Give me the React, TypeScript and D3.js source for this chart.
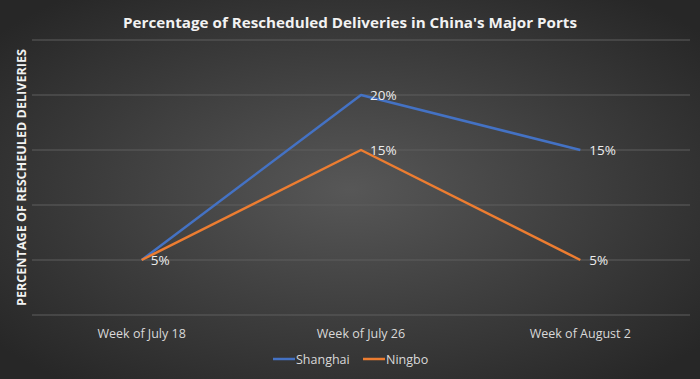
import React from "react";
import * as d3 from "d3";

const categories = ["Week of July 18", "Week of July 26", "Week of August 2"];
const shanghai = [5, 20, 15];
const ningbo = [5, 15, 5];
const seriesNames = ["Shanghai", "Ningbo"];
const yTicks = [0, 5, 10, 15, 20, 25];

const W = 700, H = 379;
const M = { left: 32, right: 10, top: 40, bottom: 64 };

export default function App() {
  const x = d3.scaleBand<string>().domain(categories).range([M.left, W - M.right]);
  const y = d3.scaleLinear().domain([0, 25]).range([H - M.bottom, M.top]);
  const cx = (c: string) => (x(c) as number) + x.bandwidth() / 2;
  const series = [
    { name: seriesNames[0], values: shanghai, color: "#4472C4" },
    { name: seriesNames[1], values: ningbo, color: "#ED7D31" },
  ];
  const line = d3.line<number>().x((_, i) => cx(categories[i])).y((v) => y(v));
  const font = "'Open Sans', sans-serif";
  return (
    <svg width={W} height={H} style={{ position: "absolute", left: 0, top: 0 }}>
      <defs>
        <radialGradient id="bg" cx="50%" cy="50%" r="65%">
          <stop offset="0%" stopColor="#575757" />
          <stop offset="100%" stopColor="#272727" />
        </radialGradient>
      </defs>
      <rect width={W} height={H} fill="url(#bg)" />
      <text x={350} y={28} textAnchor="middle" fill="#f2f2f2" fontFamily={font} fontWeight="bold" fontSize={15} textLength={454} lengthAdjust="spacingAndGlyphs">
        Percentage of Rescheduled Deliveries in China's Major Ports
      </text>
      {yTicks.map((t) => (
        <line key={t} x1={M.left} x2={W - M.right} y1={y(t)} y2={y(t)} stroke="#5e5e5e" strokeWidth={1} />
      ))}
      <text
        transform={`translate(26,${(M.top + H - M.bottom) / 2}) rotate(-90)`}
        textAnchor="middle"
        fill="#f2f2f2"
        fontFamily={font}
        fontWeight="bold"
        fontSize={12.5}
        textLength={257}
        lengthAdjust="spacingAndGlyphs"
      >
        PERCENTAGE OF RESCHEULED DELIVERIES
      </text>
      {categories.map((c) => (
        <text key={c} x={cx(c)} y={338} textAnchor="middle" fill="#d9d9d9" fontFamily={font} fontSize={12.5}>
          {c}
        </text>
      ))}
      {series.map((s) => (
        <path key={s.name} d={line(s.values) || ""} fill="none" stroke={s.color} strokeWidth={2.5} strokeLinejoin="round" />
      ))}
      {series.map((s) =>
        s.values.map((v, i) =>
          s.name === "Ningbo" && i === 0 ? null : (
            <text key={s.name + i} x={cx(categories[i]) + 9} y={y(v) + 5} fill="#ececec" fontFamily={font} fontSize={13.5}>
              {v}%
            </text>
          )
        )
      )}
      {series.map((s, i) => {
        const lx = i === 0 ? 273 : 363;
        return (
          <g key={s.name}>
            <line x1={lx} x2={lx + 22} y1={359} y2={359} stroke={s.color} strokeWidth={2.5} />
            <text x={lx + 23} y={363.5} fill="#d9d9d9" fontFamily={font} fontSize={12.5}>
              {s.name}
            </text>
          </g>
        );
      })}
    </svg>
  );
}
